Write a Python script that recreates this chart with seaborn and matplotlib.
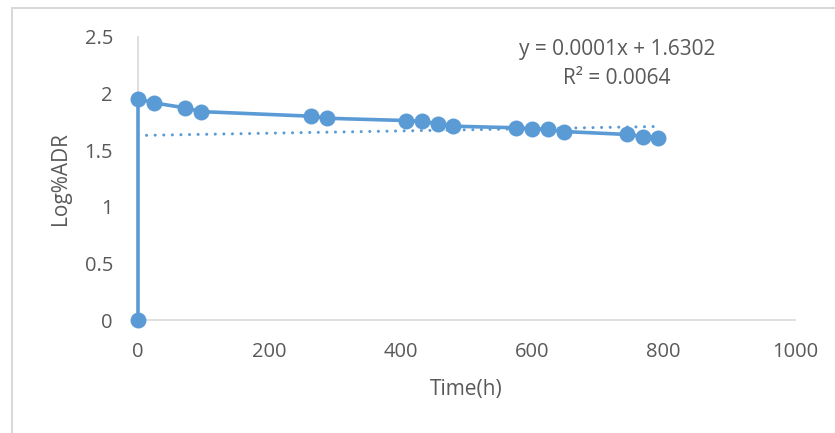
import matplotlib
matplotlib.use("Agg")
import matplotlib.pyplot as plt
from matplotlib.lines import Line2D
import numpy as np
import pandas as pd
import seaborn as sns

# Measured series: time in hours and log of %ADR
time_h = [0, 0, 24, 72, 96, 264, 288, 408, 432, 456, 480, 576, 600, 624, 648, 744, 768, 792]
log_adr = [0.0, 1.955, 1.918, 1.874, 1.841, 1.800, 1.782, 1.762, 1.756, 1.733, 1.712,
           1.698, 1.690, 1.683, 1.665, 1.639, 1.621, 1.610]

# Linear trendline as reported
trend_slope = 0.0001
trend_intercept = 1.6302
trend_r2 = 0.0064
trend_x = [0, 792]

x_ticks = [0, 200, 400, 600, 800, 1000]
y_ticks = [0, 0.5, 1, 1.5, 2, 2.5]

sns.set_theme(style="white")
plt.rcParams["font.family"] = ["Open Sans", "DejaVu Sans"]

blue = "#5B9BD5"
grey_text = "#595959"
grey_line = "#D9D9D9"

fig = plt.figure(figsize=(8.35, 4.33), dpi=100)
ax = fig.add_axes([138 / 835, 1 - 320 / 433, 657 / 835, 283 / 433])

df = pd.DataFrame({"t": time_h, "y": log_adr})
sns.lineplot(data=df, x="t", y="y", sort=False, estimator=None, ax=ax,
             color=blue, linewidth=2.6, marker="o", markersize=11.5,
             markeredgewidth=0, zorder=3, clip_on=False)

tx = np.array(trend_x, dtype=float)
trend_df = pd.DataFrame({"t": tx, "y": trend_slope * tx + trend_intercept})
sns.lineplot(data=trend_df, x="t", y="y", ax=ax, color=blue, linewidth=2.2,
             dashes=False, zorder=2)
ax.lines[-1].set_linestyle((0, (0.01, 2.8)))
ax.lines[-1].set_dash_capstyle("round")

ax.set_xlim(0, 1000)
ax.set_ylim(0, 2.5)
ax.set_xticks(x_ticks)
ax.set_yticks(y_ticks)
ax.set_xticklabels([str(v) for v in x_ticks])
ax.set_yticklabels([f"{v:g}" for v in y_ticks])
ax.tick_params(axis="both", length=0, labelsize=14.5, colors=grey_text)
ax.tick_params(axis="x", pad=16)
ax.tick_params(axis="y", pad=18)

for side in ["top", "right"]:
    ax.spines[side].set_visible(False)
for side in ["left", "bottom"]:
    ax.spines[side].set_color(grey_line)
    ax.spines[side].set_linewidth(1.2)
    ax.spines[side].set_zorder(1)

ax.set_xlabel("Time(h)", fontsize=15, color=grey_text, labelpad=12)
ax.set_ylabel("Log%ADR", fontsize=15, color=grey_text, labelpad=10)

ax.text(617 / 835, 1 - 50 / 433,
        f"y = {trend_slope:.4f}x + {trend_intercept:.4f}",
        transform=fig.transFigure, ha="center", va="center",
        fontsize=15, color=grey_text)
ax.text(617 / 835, 1 - 79 / 433, f"R² = {trend_r2:.4f}",
        transform=fig.transFigure, ha="center", va="center",
        fontsize=15, color=grey_text)

# Outer chart frame (left and top edges)
fig.add_artist(Line2D([12 / 835, 12 / 835], [0, 1 - 8 / 433],
                      transform=fig.transFigure, color=grey_line, linewidth=1.5))
fig.add_artist(Line2D([12 / 835, 1], [1 - 8 / 433, 1 - 8 / 433],
                      transform=fig.transFigure, color=grey_line, linewidth=1.5))

fig.savefig("out.png", dpi=100, facecolor="white")
